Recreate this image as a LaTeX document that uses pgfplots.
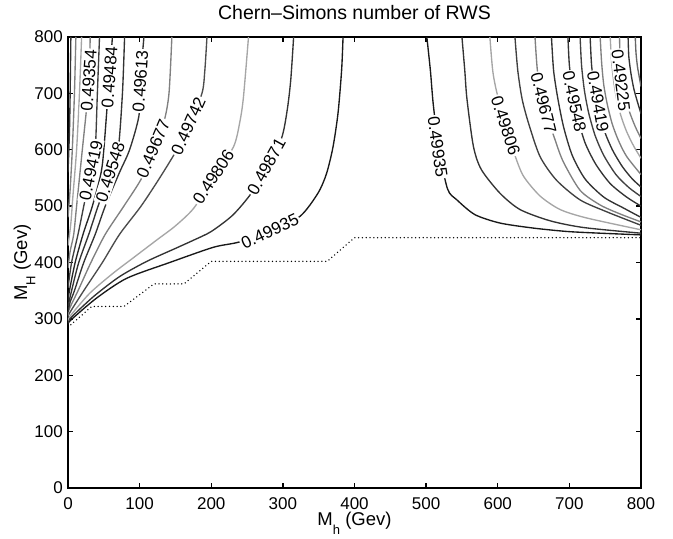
\documentclass[border=0pt]{standalone}
\usepackage{pgfplots}
\pgfplotsset{compat=1.18}
\usepackage{fontspec}
\setmainfont{Liberation Sans}
\begin{document}
\begin{tikzpicture}
\pgfplotsset{ctr/.style={line width=1.35pt, smooth, tension=0.45, no markers}}
\tikzset{lbl/.style={fill=white, inner sep=1.2pt, font=\fontsize{17}{17}\selectfont}}
\begin{axis}[
  scale only axis, width=573pt, height=451pt,
  xmin=0, xmax=800, ymin=0, ymax=800,
  clip mode=individual,
  xtick={0,100,...,800}, ytick={0,100,...,800},
  tick align=inside, major tick length=5pt,
  axis line style={line width=1.6pt},
  major tick style={line width=1.3pt, black},
  tick label style={font=\fontsize{17}{17}\selectfont},
  /pgf/number format/assume math mode=true,
  xticklabel style={inner sep=0pt, yshift=-9pt},
  yticklabel style={inner sep=0pt, xshift=-5pt},
]
% feasibility boundary
\addplot[black, line width=1.5pt, line cap=round, dash pattern=on 0pt off 3.8pt] coordinates {(0,285)(33,322)(78,322)(120,362)(162,362)(200,402)(362,402)(400,444)(800,444)};
% ---------- left family ----------
\addplot[ctr, black!90] coordinates {(0,290)(4,298)(40,337)(82,372)(142,400)(203,427)(238,436)(282,455)(324,482)(349,523)(361,558)(370,605)(377,665)(382,741)(384,800)};
\addplot[ctr, black!80] coordinates {(0,293)(4,302)(36,340)(72,375)(110,402)(150,425)(176,440)(200,455)(230,484)(256,523)(277,570)(298,620)(306,670)(311,724)(315,800)};
\addplot[ctr, black!35] coordinates {(0,297)(3,305)(30,345)(62,380)(95,412)(124,440)(150,465)(176,497)(203,552)(231,605)(240,650)(245,694)(252,800)};
\addplot[ctr, black!70] coordinates {(0,302)(2,310)(22,350)(48,400)(72,450)(102,500)(128,550)(152,600)(168,642)(187,700)(191,740)(194,800)};
\addplot[ctr, black!50] coordinates {(0,306)(2,318)(14,350)(32,400)(52,450)(78,500)(103,550)(119,602)(134,650)(141,700)(145,800)};
\addplot[ctr, black!80] coordinates {(0,312)(3,330)(9,350)(22,400)(38,450)(52,500)(72,560)(86,600)(99,660)(101,722)(104,770)(106,800)};
\addplot[ctr, black!80] coordinates {(0,322)(5,350)(15,400)(29,450)(42,500)(59,560)(70,600)(76,700)(79,800)};
\addplot[ctr, black!85] coordinates {(0,332)(2,350)(10,400)(21,450)(34,500)(46,558)(50,600)(56,700)(58,729)(62,800)};
\addplot[ctr, black!75] coordinates {(0,355)(5,400)(14,450)(22,500)(32,563)(38,600)(41,700)(44,800)};
\addplot[ctr, black!50] coordinates {(0,390)(3,420)(8,450)(12,500)(20,600)(28,700)(30,750)(31,800)};
\addplot[ctr, black!35] coordinates {(0,430)(4,470)(7,520)(12,600)(16,700)(19,800)};
\addplot[ctr, black!50] coordinates {(0,480)(3,530)(6,600)(9,700)(11,800)};
\addplot[ctr, black!80] coordinates {(0,560)(2,630)(3,700)(4,800)};
% ---------- right family ----------
\addplot[ctr, black!90] coordinates {(501,800)(506,740)(510,680)(518,600)(530,530)(543,511)(568,485)(603,470)(650,461)(697,455)(743,452)(800,449)};
\addplot[ctr, black!80] coordinates {(550,800)(554,740)(557,690)(566,606)(577,565)(603,523)(631,494)(673,474)(720,462)(800,452)};
\addplot[ctr, black!35] coordinates {(589,800)(593,740)(599,700)(612,640)(624,590)(636,553)(659,518)(687,494)(724,479)(800,458)};
\addplot[ctr, black!75] coordinates {(624,800)(628,740)(634,690)(643,647)(659,588)(682,546)(715,511)(752,490)(800,466)};
\addplot[ctr, black!50] coordinates {(652,800)(655,745)(660,700)(668,660)(678,625)(691,580)(715,528)(743,502)(771,486)(800,472)};
\addplot[ctr, black!80] coordinates {(675,800)(678,740)(684,690)(692,640)(704,590)(722,548)(748,516)(775,497)(800,480)};
\addplot[ctr, black!80] coordinates {(698,800)(700,750)(705,700)(712,655)(722,612)(737,574)(757,540)(780,516)(800,500)};
\addplot[ctr, black!75] coordinates {(715,800)(717,750)(721,705)(727,665)(736,625)(748,590)(765,556)(783,533)(800,517)};
\addplot[ctr, black!80] coordinates {(729,800)(731,750)(735,710)(741,670)(749,633)(760,600)(774,570)(788,548)(800,534)};
\addplot[ctr, black!50] coordinates {(743,800)(745,755)(748,715)(753,680)(760,645)(769,615)(780,588)(800,556)};
\addplot[ctr, black!35] coordinates {(757,800)(759,755)(762,720)(766,690)(772,660)(780,632)(790,606)(800,585)};
\addplot[ctr, black!50] coordinates {(770,800)(771,760)(774,725)(778,695)(784,667)(792,641)(800,620)};
\addplot[ctr, black!80] coordinates {(782,800)(783,765)(786,735)(790,708)(795,685)(800,664)};
\addplot[ctr, black!60] coordinates {(792,800)(793,772)(795,748)(798,726)(800,712)};
% ---------- contour labels ----------
\node[lbl, rotate=25] at (axis cs:282,455) {0.49935};
\node[lbl, rotate=61] at (axis cs:277,570) {0.49871};
\node[lbl, rotate=57] at (axis cs:203,552) {0.49806};
\node[lbl, rotate=66] at (axis cs:168,642) {0.49742};
\node[lbl, rotate=67] at (axis cs:119,602) {0.49677};
\node[lbl, rotate=86] at (axis cs:101,722) {0.49613};
\node[lbl, rotate=72] at (axis cs:59,560) {0.49548};
\node[lbl, rotate=86] at (axis cs:58,729) {0.49484};
\node[lbl, rotate=78] at (axis cs:32,563) {0.49419};
\node[lbl, rotate=86] at (axis cs:29,723) {0.49354};
\node[lbl, rotate=-82] at (axis cs:516,605) {0.49935};
\node[lbl, rotate=-72] at (axis cs:611,643) {0.49806};
\node[lbl, rotate=-76] at (axis cs:664,683) {0.49677};
\node[lbl, rotate=-78] at (axis cs:707,685) {0.49548};
\node[lbl, rotate=-80] at (axis cs:740,685) {0.49419};
\node[lbl, rotate=-83] at (axis cs:772,723) {0.49225};
\coordinate (bl) at (rel axis cs:0,0);
\coordinate (tr) at (rel axis cs:1,1);
\coordinate (tc) at (rel axis cs:0.5,1);
\coordinate (bc) at (rel axis cs:0.5,0);
\coordinate (ml) at (rel axis cs:0,0.5);
\end{axis}
% ---------- titles ----------
\node[anchor=base, font=\fontsize{19.5}{19.5}\selectfont] at ([yshift=17pt]tc) {Chern--Simons number of RWS};
\node[anchor=base, font=\fontsize{18.5}{18.5}\selectfont] at ([yshift=-38pt]bc) {M\raisebox{-0.45em}{\fontsize{13}{13}\selectfont h} (Gev)};
\node[anchor=base, rotate=90, font=\fontsize{18.5}{18.5}\selectfont] at ([xshift=-41pt]ml) {M\raisebox{-0.45em}{\fontsize{13}{13}\selectfont H} (Gev)};
\pgfresetboundingbox
\path[use as bounding box] ([shift={(-68pt,-51pt)}]bl) rectangle ([shift={(32pt,37pt)}]tr);
\end{tikzpicture}
\end{document}
